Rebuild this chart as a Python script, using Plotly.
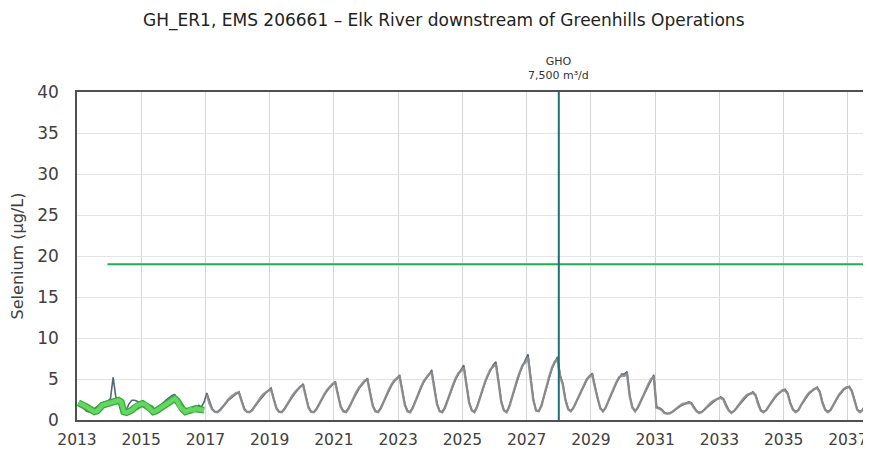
import plotly.graph_objects as go

title_text = "GH_ER1, EMS 206661 – Elk River downstream of Greenhills Operations"
y_title = "Selenium (µg/L)"
annot_text = "GHO<br>7,500 m³/d"
annot_year = 2028.0

x_ticks = [2013, 2015, 2017, 2019, 2021, 2023, 2025, 2027, 2029, 2031, 2033, 2035, 2037]
y_ticks = [0, 5, 10, 15, 20, 25, 30, 35, 40]

threshold_value = 19.0
threshold_start = 2013.95

# Observed (green), monthly 2013-2016
obs_years = [2013, 2014, 2015, 2016]
obs_values = [
    [2.1, 2.0, 1.8, 1.6, 1.4, 1.2, 1.0, 1.1, 1.5, 1.8, 1.9, 2.0],
    [2.1, 2.3, 2.4, 2.4, 2.2, 1.0, 0.9, 1.0, 1.2, 1.5, 1.8, 1.9],
    [2.0, 1.9, 1.6, 1.4, 1.0, 1.1, 1.3, 1.5, 1.8, 2.0, 2.2, 2.4],
    [2.6, 2.3, 1.6, 1.3, 1.0, 1.1, 1.3, 1.2, 1.4, 1.3, 1.2, 1.2],
]

# Model series A (dark slate), monthly 2013-2037
modelA_years = list(range(2013, 2038))
modelA_values = [
    [2.1, 1.8, 1.5, 1.1, 1.0, 1.1, 1.4, 1.7, 1.9, 2.0, 2.1, 2.3],
    [2.6, 5.2, 2.8, 2.5, 1.0, 0.9, 1.3, 2.0, 2.4, 2.4, 2.3, 2.1],
    [2.0, 1.6, 1.2, 1.0, 1.0, 1.1, 1.5, 1.9, 2.2, 2.5, 2.8, 3.0],
    [3.1, 2.2, 1.6, 1.1, 1.0, 1.1, 1.3, 1.6, 1.4, 1.8, 1.6, 2.2],
    [3.3, 2.2, 1.4, 1.0, 1.0, 1.3, 1.6, 2.0, 2.4, 2.7, 3.0, 3.2],
    [3.45, 2.3, 1.4, 1.0, 1.0, 1.3, 1.7, 2.2, 2.6, 3.0, 3.3, 3.6],
    [3.9, 2.6, 1.5, 1.0, 1.0, 1.4, 1.9, 2.4, 2.9, 3.3, 3.7, 4.0],
    [4.4, 2.9, 1.6, 1.0, 1.0, 1.4, 2.0, 2.6, 3.1, 3.6, 4.0, 4.3],
    [4.7, 3.1, 1.7, 1.1, 1.0, 1.5, 2.1, 2.8, 3.4, 3.9, 4.3, 4.7],
    [5.1, 3.4, 1.8, 1.1, 1.0, 1.5, 2.2, 3.0, 3.6, 4.2, 4.7, 5.0],
    [5.5, 3.7, 1.9, 1.1, 1.0, 1.6, 2.4, 3.2, 3.9, 4.6, 5.1, 5.5],
    [6.1, 4.0, 2.0, 1.1, 1.0, 1.6, 2.5, 3.4, 4.2, 5.0, 5.6, 6.2],
    [6.7, 4.4, 2.2, 1.2, 1.0, 1.7, 2.7, 3.7, 4.6, 5.4, 6.1, 6.7],
    [7.1, 4.7, 2.3, 1.2, 1.0, 1.7, 2.8, 3.9, 4.9, 5.8, 6.6, 7.3],
    [8.0, 5.2, 2.5, 1.2, 1.1, 1.8, 3.0, 4.2, 5.3, 6.3, 7.0, 7.7],
    [5.5, 4.5, 2.5, 1.4, 1.1, 1.5, 2.2, 2.9, 3.6, 4.3, 4.9, 5.4],
    [5.7, 4.2, 2.6, 1.5, 1.1, 1.5, 2.3, 3.0, 3.8, 4.5, 5.1, 5.6],
    [5.6, 5.9, 3.0, 1.6, 1.1, 1.5, 2.2, 2.9, 3.6, 4.3, 4.9, 5.5],
    [1.6, 1.5, 1.3, 0.9, 0.8, 0.85, 1.0, 1.3, 1.5, 1.7, 1.9, 2.1],
    [2.2, 2.1, 1.6, 1.1, 0.9, 1.0, 1.3, 1.6, 1.9, 2.2, 2.4, 2.6],
    [2.8, 2.6, 1.8, 1.2, 0.9, 1.1, 1.5, 1.9, 2.3, 2.7, 3.0, 3.2],
    [3.45, 3.1, 2.0, 1.2, 1.0, 1.2, 1.7, 2.2, 2.6, 3.0, 3.3, 3.6],
    [3.75, 3.3, 2.1, 1.3, 1.0, 1.2, 1.8, 2.3, 2.8, 3.2, 3.5, 3.8],
    [4.0, 3.5, 2.2, 1.3, 1.0, 1.2, 1.8, 2.4, 2.9, 3.3, 3.7, 3.9],
    [4.1, 3.6, 2.3, 1.3, 1.0, 1.2, 1.8, 2.4, 2.9, 3.3, 3.6, 3.9],
]

# Model series B (grey), monthly 2017-2037
modelB_years = list(range(2017, 2038))
modelB_values = [
    [3.1, 2.0, 1.3, 1.0, 0.95, 1.2, 1.6, 2.1, 2.5, 2.8, 3.1, 3.3],
    [3.3, 2.2, 1.3, 1.0, 0.95, 1.2, 1.7, 2.3, 2.7, 3.1, 3.4, 3.6],
    [3.7, 2.5, 1.4, 1.0, 0.95, 1.3, 1.9, 2.5, 3.0, 3.4, 3.8, 4.1],
    [4.2, 2.8, 1.5, 1.0, 0.95, 1.3, 2.0, 2.7, 3.2, 3.7, 4.1, 4.4],
    [4.5, 3.0, 1.6, 1.05, 0.95, 1.4, 2.1, 2.9, 3.5, 4.0, 4.4, 4.8],
    [4.9, 3.3, 1.7, 1.05, 0.95, 1.4, 2.2, 3.1, 3.7, 4.3, 4.8, 5.1],
    [5.3, 3.6, 1.8, 1.05, 0.95, 1.5, 2.4, 3.3, 4.0, 4.7, 5.2, 5.6],
    [5.8, 3.9, 1.9, 1.05, 0.95, 1.5, 2.5, 3.5, 4.3, 5.1, 5.7, 6.0],
    [6.4, 4.3, 2.1, 1.15, 0.95, 1.6, 2.7, 3.8, 4.7, 5.5, 6.2, 6.5],
    [6.8, 4.6, 2.2, 1.15, 0.95, 1.6, 2.8, 4.0, 5.0, 5.9, 6.7, 7.0],
    [7.6, 5.0, 2.4, 1.15, 1.05, 1.7, 3.0, 4.3, 5.4, 6.4, 7.1, 7.4],
    [5.3, 4.3, 2.4, 1.3, 1.05, 1.5, 2.2, 3.0, 3.7, 4.4, 5.0, 5.3],
    [5.5, 4.0, 2.5, 1.4, 1.05, 1.5, 2.3, 3.1, 3.9, 4.6, 5.2, 5.4],
    [5.4, 5.6, 2.9, 1.5, 1.05, 1.5, 2.2, 3.0, 3.7, 4.4, 5.0, 5.3],
    [1.5, 1.4, 1.2, 0.85, 0.75, 0.8, 1.0, 1.3, 1.6, 1.8, 2.0, 2.0],
    [2.1, 2.0, 1.5, 1.05, 0.85, 1.0, 1.3, 1.7, 2.0, 2.3, 2.5, 2.6],
    [2.7, 2.5, 1.7, 1.15, 0.85, 1.1, 1.5, 2.0, 2.4, 2.8, 3.1, 3.2],
    [3.3, 3.0, 1.9, 1.15, 0.95, 1.2, 1.7, 2.3, 2.7, 3.1, 3.4, 3.6],
    [3.6, 3.2, 2.0, 1.25, 0.95, 1.2, 1.8, 2.4, 2.9, 3.3, 3.6, 3.8],
    [3.9, 3.4, 2.1, 1.25, 0.95, 1.2, 1.8, 2.5, 3.0, 3.4, 3.8, 4.0],
    [4.0, 3.5, 2.2, 1.25, 0.95, 1.2, 1.8, 2.5, 3.0, 3.4, 3.7, 3.9],
]

X_END = 2037.72
FONT = "DejaVu Sans"


def flatten(years, values):
    xs, ys = [], []
    for yr, row in zip(years, values):
        for m, v in enumerate(row):
            xs.append(yr + (m + 0.5) / 12.0)
            ys.append(v)
    return xs, ys


obs_x, obs_y = flatten(obs_years, obs_values)
a_x, a_y = flatten(modelA_years, modelA_values)
b_x, b_y = flatten(modelB_years, modelB_values)

fig = go.Figure()

fig.add_trace(go.Scatter(x=[threshold_start, X_END], y=[threshold_value, threshold_value],
                         mode="lines", line=dict(color="#1fae55", width=2), showlegend=False))
fig.add_trace(go.Scatter(x=a_x, y=a_y, mode="lines",
                         line=dict(color="#55657a", width=1.6), showlegend=False))
fig.add_trace(go.Scatter(x=b_x, y=b_y, mode="lines", opacity=0.9,
                         line=dict(color="#8c8c8c", width=2.4), showlegend=False))
fig.add_trace(go.Scatter(x=obs_x, y=obs_y, mode="lines",
                         line=dict(color="#3aa63a", width=7), showlegend=False))
fig.add_trace(go.Scatter(x=obs_x, y=obs_y, mode="lines",
                         line=dict(color="#62d862", width=4.5), showlegend=False))

fig.add_shape(type="line", x0=annot_year, x1=annot_year, y0=0, y1=40,
              xref="x", yref="y", line=dict(color="#1f6e78", width=2))
fig.add_annotation(x=annot_year, y=1, xref="x", yref="paper", yanchor="bottom",
                   text=annot_text, showarrow=False, yshift=8,
                   font=dict(size=11, color="#333333", family=FONT))

# page body adds an 8px offset; size the figure so the plot area lands where the reference's does
fig.update_layout(
    width=863, height=443,
    margin=dict(l=69, r=0, t=84, b=31),
    paper_bgcolor="white", plot_bgcolor="white",
    title=dict(text=title_text, x=0.505, xanchor="center", y=0.972, yanchor="middle",
               font=dict(size=17, color="#222222", family=FONT)),
    font=dict(family=FONT, color="#404040"),
)
fig.update_xaxes(range=[2013, X_END], tickvals=x_ticks, ticktext=[str(t) for t in x_ticks],
                 showgrid=True, gridcolor="#d6d6d6", gridwidth=1,
                 showline=True, linecolor="#505050", linewidth=1.5, mirror=True,
                 ticks="outside", ticklen=5, tickcolor="rgba(0,0,0,0)",
                 ticklabeloverflow="allow",
                 tickfont=dict(size=15.5, color="#404040", family=FONT), zeroline=False)
fig.update_yaxes(range=[0, 40], tickvals=y_ticks,
                 showgrid=True, gridcolor="#e4e4e4", gridwidth=1,
                 showline=True, linecolor="#505050", linewidth=1.5,
                 ticks="outside", ticklen=13, tickcolor="rgba(0,0,0,0)",
                 tickfont=dict(size=17, color="#404040", family=FONT), zeroline=False,
                 title=dict(text=y_title, font=dict(size=16, color="#404040", family=FONT), standoff=10))

fig.write_html("out.html")
